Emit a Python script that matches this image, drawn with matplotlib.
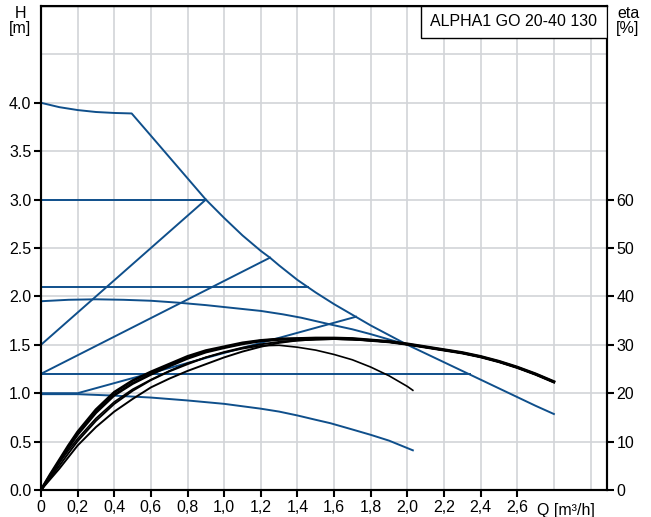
import numpy as np
import matplotlib.pyplot as plt
from matplotlib.patches import Rectangle

plt.rcParams['font.family'] = ['Liberation Sans', 'DejaVu Sans']

BLUE = '#0f4f8b'
FS = 11.5

# maximum curve (H vs Q)
max_q = [0.0, 0.1, 0.2, 0.3, 0.4, 0.495, 0.6, 0.7, 0.8, 0.9, 1.0, 1.1, 1.2, 1.25, 1.3, 1.4,
         1.5, 1.6, 1.7, 1.8, 1.9, 2.0, 2.1, 2.2, 2.3, 2.4, 2.5, 2.6, 2.7, 2.8]
max_h = [4.0, 3.955, 3.925, 3.905, 3.895, 3.89, 3.66, 3.44, 3.22, 3.0, 2.81, 2.63, 2.47, 2.40,
         2.32, 2.17, 2.04, 1.92, 1.81, 1.70, 1.60, 1.50, 1.41, 1.32, 1.23, 1.14, 1.05, 0.96,
         0.87, 0.785]

# speed curves
sp_hi_q = [0.0, 0.15, 0.3, 0.45, 0.6, 0.75, 0.9, 1.05, 1.2, 1.32, 1.42, 1.58, 1.7, 1.8, 1.9, 2.0]
sp_hi_h = [1.95, 1.965, 1.97, 1.965, 1.955, 1.935, 1.91, 1.88, 1.85, 1.815, 1.78, 1.71, 1.66,
           1.61, 1.555, 1.50]
sp_lo_q = [0.0, 0.2, 0.4, 0.6, 0.8, 1.0, 1.1, 1.2, 1.3, 1.4, 1.5, 1.58, 1.7, 1.8, 1.9, 2.03]
sp_lo_h = [0.99, 0.99, 0.975, 0.955, 0.925, 0.89, 0.865, 0.84, 0.81, 0.77, 0.725, 0.69, 0.625,
           0.57, 0.51, 0.41]

# constant pressure lines
cp_levels = [3.0, 2.1, 1.2]
cp_ends = [0.9, 1.46, 2.34]

# proportional pressure lines
pp_lines = [
    ([0.0, 0.9], [1.5, 3.0]),
    ([0.0, 1.25], [1.2, 2.4]),
    ([0.0, 0.2, 1.72], [1.0, 1.0, 1.79]),
]

# efficiency curves, eta [%]
eta_q = [0.0, 0.05, 0.1, 0.15, 0.2, 0.3, 0.4, 0.5, 0.6, 0.7, 0.8, 0.9, 1.0, 1.1, 1.2, 1.3,
         1.4, 1.5, 1.6, 1.7, 1.8, 1.9, 2.0, 2.1, 2.2, 2.3, 2.4, 2.5, 2.6, 2.7, 2.8]
eta_max = [0.0, 3.2, 6.2, 9.2, 12.0, 16.6, 20.2, 22.6, 24.4, 26.0, 27.6, 28.8, 29.6, 30.4,
           30.9, 31.2, 31.3, 31.4, 31.4, 31.3, 31.0, 30.7, 30.2, 29.6, 29.0, 28.4, 27.6,
           26.6, 25.4, 24.0, 22.4]
eta_a = [0.0, 3.0, 5.9, 8.8, 11.5, 16.0, 19.6, 22.0, 23.9, 25.6, 27.2, 28.5, 29.4, 30.2,
         30.8, 31.1, 31.2, 31.3, 31.3, 31.2, 30.9, 30.6, 30.1, 29.5, 28.9, 28.3, 27.5,
         26.5, 25.3, 23.9, 22.3]
eta_b = [0.0, 2.5, 5.0, 7.6, 10.1, 14.3, 17.8, 20.5, 22.7, 24.5, 26.0, 27.4, 28.5, 29.4,
         30.1, 30.6, 30.9, 31.1, 31.2, 31.1, 30.9, 30.6, 30.1, 29.5, 28.9, 28.3, 27.5,
         26.5, 25.3, 23.9, 22.3]
eta_c = [0.0, 2.2, 4.4, 6.8, 9.2, 13.0, 16.2, 18.8, 21.2, 23.0, 24.6, 26.0, 27.4, 28.6,
         29.6, 30.4, 30.9, 31.1, 31.2, 31.1, 30.9, 30.6, 30.1, 29.5, 28.9, 28.3, 27.5,
         26.5, 25.3, 23.9, 22.3]
eta_thin_q = [0.0, 0.05, 0.1, 0.15, 0.2, 0.3, 0.4, 0.5, 0.6, 0.7, 0.8, 0.9, 1.0, 1.1, 1.2,
              1.3, 1.4, 1.5, 1.6, 1.7, 1.8, 1.9, 2.0, 2.03]
eta_thin = [0.0, 2.8, 5.6, 8.2, 10.6, 14.8, 18.2, 20.8, 22.8, 24.6, 26.2, 27.4, 28.4, 29.2,
            29.8, 29.9, 29.5, 28.9, 28.0, 26.9, 25.4, 23.6, 21.4, 20.6]

fig = plt.figure(figsize=(6.51, 5.17), dpi=100)
ax = fig.add_axes([41 / 651, 27 / 517, 566 / 651, 484 / 517])
ax2 = ax.twinx()

ax.set_xlim(0, 3.09)
ax.set_ylim(0, 5.0)
ax2.set_ylim(0, 100)

xt = np.round(np.arange(0, 2.61, 0.2), 1)
ax.set_xticks(xt)
ax.set_xticklabels(['0'] + [f'{v:.1f}'.replace('.', ',') for v in xt[1:]])
ax.set_xticks([2.8, 3.0], minor=True)
yt = np.arange(0, 4.01, 0.5)
ax.set_yticks(yt)
ax.set_yticklabels([f'{v:.1f}' for v in yt])
ax.set_yticks([4.5], minor=True)
ax.tick_params(which='minor', length=0)
ax.tick_params(which='major', length=5, width=1.5, labelsize=FS, pad=2)
ax.grid(True, which='both', color='#d2d4d8', lw=1.2)
ax.set_axisbelow(True)

ax2.set_yticks(np.arange(0, 61, 10))
ax2.tick_params(length=5, width=1.5, labelsize=FS, pad=2)

for a in (ax, ax2):
    for s in a.spines.values():
        s.set_linewidth(1.5)
ax.spines['top'].set_linewidth(1.0)

lw = 1.4
ax.plot(max_q, max_h, color=BLUE, lw=lw)
ax.plot(sp_hi_q, sp_hi_h, color=BLUE, lw=lw)
ax.plot(sp_lo_q, sp_lo_h, color=BLUE, lw=lw)
for lev, end in zip(cp_levels, cp_ends):
    ax.plot([0, end], [lev, lev], color=BLUE, lw=lw)
for qq, hh in pp_lines:
    ax.plot(qq, hh, color=BLUE, lw=lw)

for e, w in [(eta_max, 2.0), (eta_a, 2.0), (eta_b, 1.4), (eta_c, 1.4)]:
    ax2.plot(eta_q, e, color='black', lw=w, solid_joinstyle='round')
ax2.plot(eta_thin_q, eta_thin, color='black', lw=1.2)

ax.text(2.71, -0.13, 'Q [m³/h]', ha='left', va='top', fontsize=FS)

ax2.add_patch(Rectangle((0.671, 0.934), 0.329, 0.066, transform=ax2.transAxes,
                        facecolor='white', edgecolor='black', lw=1.0, zorder=5))
ax2.text(0.835, 0.967, 'ALPHA1 GO 20-40 130', transform=ax2.transAxes,
         ha='center', va='center', fontsize=FS, zorder=6)

fig.text(20 / 651, 1 - 13 / 517, 'H', ha='center', va='center', fontsize=FS)
fig.text(20 / 651, 1 - 28 / 517, '[m]', ha='center', va='center', fontsize=FS)
fig.text(628 / 651, 1 - 13 / 517, 'eta', ha='center', va='center', fontsize=FS)
fig.text(628 / 651, 1 - 28 / 517, '[%]', ha='center', va='center', fontsize=FS)

fig.savefig('out.png', dpi=100)
